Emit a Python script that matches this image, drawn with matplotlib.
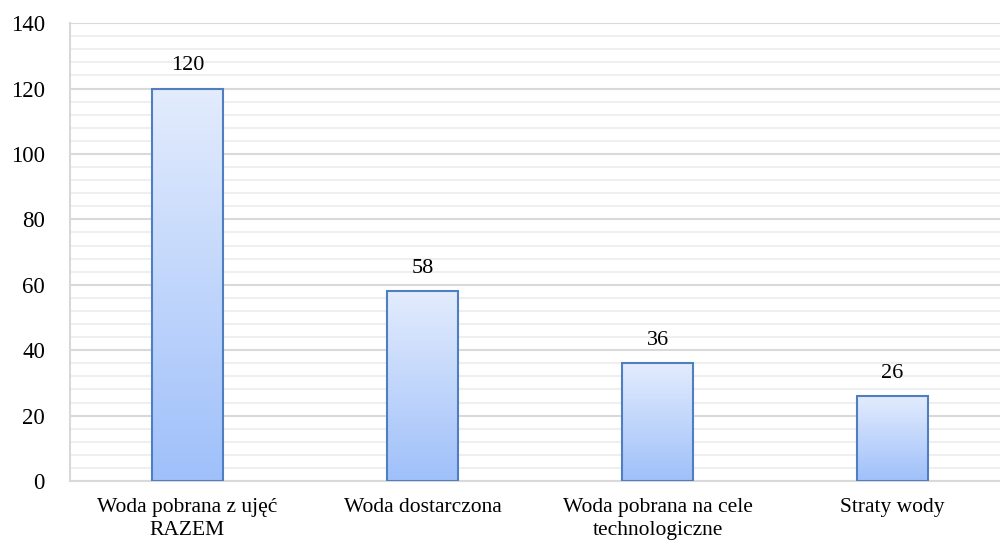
import numpy as np
import matplotlib.pyplot as plt
from matplotlib.colors import LinearSegmentedColormap

categories = ['Woda pobrana z ujęć\nRAZEM', 'Woda dostarczona',
              'Woda pobrana na cele\ntechnologiczne', 'Straty wody']
values = [120, 58, 36, 26]

plt.rcParams['font.family'] = ['Liberation Serif', 'DejaVu Serif']

fig = plt.figure(figsize=(10, 5.51), dpi=100)
ax = fig.add_axes([0.07, 0.127, 0.94, 0.831])

x = np.arange(len(categories))
bars = ax.bar(x, values, width=0.3, color='none', edgecolor='#4f7fc0',
              linewidth=1.5, zorder=3)

# vertical gradient fill, clipped to each bar
cmap = LinearSegmentedColormap.from_list('grad', ['#9fc0fa', '#e3ecfd'])
grad = np.linspace(0, 1, 256).reshape(-1, 1)
for b in bars:
    x0, w, h = b.get_x(), b.get_width(), b.get_height()
    im = ax.imshow(grad, cmap=cmap, origin='lower', aspect='auto',
                   extent=[x0, x0 + w, 0, h], zorder=2)
    im.set_clip_path(b)
    ax.text(x0 + w / 2, h + 4, str(h), ha='center', va='bottom', fontsize=16)

ax.set_xlim(-0.5, 3.5)
ax.set_ylim(0, 140)
ax.set_yticks(np.arange(0, 141, 20))
ax.set_yticks(np.arange(0, 141, 4), minor=True)
ax.grid(axis='y', which='major', color='#d9d9d9', linewidth=1.5, zorder=0)
ax.grid(axis='y', which='minor', color='#efefef', linewidth=1.5, zorder=0)
ax.set_axisbelow(True)

ax.set_xticks(x)
ax.set_xticklabels(categories, fontsize=15.5, linespacing=1.3)
ax.tick_params(axis='both', which='both', length=0)
ax.tick_params(axis='y', pad=18, labelsize=16.5)
ax.tick_params(axis='x', pad=12)

for s in ['top', 'right']:
    ax.spines[s].set_visible(False)
for s in ['left', 'bottom']:
    ax.spines[s].set_color('#d9d9d9')
    ax.spines[s].set_linewidth(1.5)

fig.savefig('out.png', dpi=100)
